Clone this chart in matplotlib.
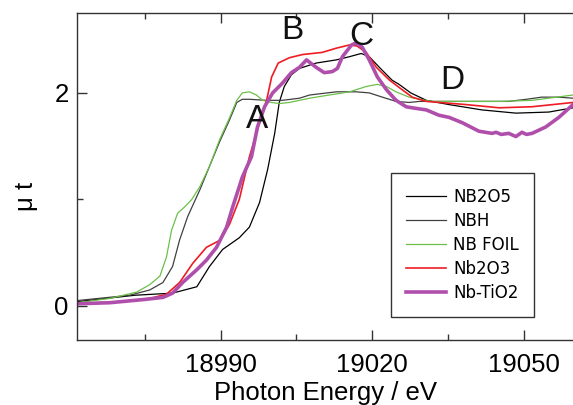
import numpy as np
import matplotlib
matplotlib.use("Agg")
import matplotlib.pyplot as plt

plt.rcParams["font.family"] = ["Liberation Sans", "DejaVu Sans"]

# NB FOIL (green)
foil_e = [18961.6, 18968.1, 18973.4, 18976.0, 18978.0, 18979.3, 18980.3, 18981.5, 18982.9,
          18984.3, 18985.9, 18987.8, 18989.8, 18991.8, 18993.2, 18994.3, 18995.7, 18997.1,
          18998.3, 19000.1, 19001.6, 19003.6, 19007.6, 19011.5, 19015.5, 19018.8, 19021.0,
          19022.8, 19024.7, 19027.3, 19029.3, 19031.8, 19038.6, 19045.1, 19051.6, 19059.7]
foil_mu = [0.03, 0.07, 0.13, 0.20, 0.28, 0.46, 0.71, 0.87, 0.93,
           1.00, 1.12, 1.31, 1.56, 1.77, 1.93, 2.00, 2.01, 1.98,
           1.93, 1.91, 1.90, 1.91, 1.95, 1.98, 2.01, 2.06, 2.08,
           2.06, 2.01, 1.96, 1.94, 1.92, 1.92, 1.92, 1.93, 1.98]

# NBH (dark, early edge)
nbh_e = [18961.6, 18972.0, 18976.0, 18978.6, 18980.5, 18981.9, 18983.5, 18985.9, 18987.8,
         18989.8, 18991.8, 18993.2, 18994.3, 18995.7, 18999.1, 19002.2, 19005.6, 19007.6,
         19012.9, 19016.8, 19019.4, 19022.0, 19024.7, 19027.3, 19029.3, 19038.6, 19047.0,
         19050.5, 19053.5, 19056.9, 19059.7]
nbh_mu = [0.05, 0.10, 0.15, 0.22, 0.37, 0.62, 0.84, 1.09, 1.31,
          1.54, 1.75, 1.91, 1.94, 1.94, 1.93, 1.93, 1.95, 1.98,
          2.01, 2.01, 2.00, 1.96, 1.92, 1.91, 1.92, 1.92, 1.92,
          1.94, 1.96, 1.96, 1.95]

# NB2O5 (black, late edge)
nb2o5_e = [18961.6, 18973.0, 18980.5, 18985.3, 18987.8, 18990.4, 18993.7, 18995.7, 18997.7,
           18999.3, 19000.7, 19001.6, 19002.6, 19004.0, 19005.6, 19008.9, 19012.9, 19015.5,
           19017.8, 19019.4, 19021.4, 19023.9, 19025.3, 19027.6, 19030.7, 19035.2, 19041.7,
           19048.4, 19054.9, 19059.7]
nb2o5_mu = [0.04, 0.10, 0.12, 0.18, 0.37, 0.53, 0.64, 0.74, 0.97,
            1.28, 1.62, 1.91, 2.06, 2.17, 2.23, 2.28, 2.31, 2.34,
            2.37, 2.34, 2.24, 2.12, 2.08, 2.00, 1.93, 1.89, 1.84,
            1.81, 1.82, 1.86]

# Nb2O3 (red)
nb2o3_e = [18961.6, 18970.0, 18976.0, 18979.3, 18981.9, 18984.5, 18987.2, 18990.0, 18991.8,
           18993.7, 18995.7, 18997.7, 18999.1, 19000.1, 19001.4, 19003.6, 19006.2, 19010.1,
           19012.9, 19015.5, 19017.0, 19018.8, 19020.8, 19023.4, 19025.9, 19027.9, 19030.7,
           19038.6, 19045.1, 19051.6, 19059.7]
nb2o3_mu = [0.02, 0.04, 0.07, 0.11, 0.22, 0.40, 0.55, 0.62, 0.77,
            1.00, 1.40, 1.72, 1.93, 2.15, 2.28, 2.33, 2.36, 2.38,
            2.42, 2.45, 2.44, 2.38, 2.24, 2.12, 2.03, 1.96, 1.92,
            1.89, 1.86, 1.87, 1.91]

# Nb-TiO2 (purple, thick)
tio2_e = [18961.6, 18968.1, 18974.8, 18978.6, 18980.5, 18982.5, 18985.3, 18987.2, 18989.2,
          18991.2, 18992.4, 18993.7, 18994.3, 18996.1, 18997.3, 18998.7, 19000.3, 19002.2,
          19004.0, 19005.6, 19007.0, 19008.9, 19010.5, 19012.1, 19013.1, 19014.1, 19015.9,
          19016.8, 19018.0, 19019.4, 19021.0, 19022.8, 19024.7, 19026.7, 19027.9, 19030.7,
          19033.2, 19035.2, 19037.8, 19041.1, 19043.7, 19044.5, 19045.5, 19047.0, 19048.4,
          19049.6, 19050.5, 19051.6, 19054.3, 19056.9, 19059.7]
tio2_mu = [0.02, 0.03, 0.06, 0.08, 0.12, 0.22, 0.34, 0.43, 0.55,
           0.74, 0.93, 1.12, 1.21, 1.40, 1.68, 1.87, 2.00, 2.09,
           2.19, 2.24, 2.31, 2.24, 2.19, 2.20, 2.23, 2.34, 2.45,
           2.47, 2.43, 2.31, 2.15, 2.03, 1.93, 1.87, 1.86, 1.84,
           1.79, 1.77, 1.72, 1.64, 1.62, 1.63, 1.61, 1.62, 1.59,
           1.63, 1.61, 1.62, 1.68, 1.77, 1.89]

peak_labels = ["A", "B", "C", "D"]
peak_e = [18997.3, 19004.2, 19017.8, 19035.8]
peak_mu = [1.75, 2.59, 2.53, 2.12]

fig = plt.figure(figsize=(5.73, 4.05), dpi=100)
ax = fig.add_axes([77 / 573, 1 - 340 / 405, 1 - 77 / 573, (340 - 13) / 405])

ax.plot(nb2o5_e, nb2o5_mu, color="black", lw=0.9, label="NB2O5")
ax.plot(nbh_e, nbh_mu, color="#404040", lw=0.9, label="NBH")
ax.plot(foil_e, foil_mu, color="#6cc04a", lw=0.9, label="NB FOIL")
ax.plot(nb2o3_e, nb2o3_mu, color="#ee1c24", lw=1.2, label="Nb2O3")
ax.plot(tio2_e, tio2_mu, color="#b04fab", lw=2.6, label="Nb-TiO2")

for lab, e, m in zip(peak_labels, peak_e, peak_mu):
    ax.text(e, m, lab, fontsize=24, ha="center", va="center", color="#111111")

ax.set_xlim(18961.6, 19059.7)
ax.set_ylim(-0.32, 2.75)
ax.set_xticks([18990, 19020, 19050])
ax.set_xticks([18975, 19005, 19035], minor=True)
ax.set_yticks([0, 2])
ax.set_yticks([1], minor=True)
ax.tick_params(which="both", direction="in", top=True, right=False,
               labelsize=18.5, width=1, color="#333333")
ax.tick_params(which="major", length=7)
ax.tick_params(which="minor", length=4)
ax.tick_params(axis="x", pad=9)
ax.tick_params(axis="y", pad=6)
ax.xaxis.set_major_formatter(plt.FormatStrFormatter("%d"))
for side in ("left", "bottom", "top"):
    ax.spines[side].set_color("#333333")
    ax.spines[side].set_linewidth(1)
ax.spines["right"].set_visible(False)

ax.set_xlabel("Photon Energy / eV", fontsize=18.5, labelpad=3)
ax.set_ylabel("μ t", fontsize=18.5)
ax.yaxis.set_label_coords(-0.079, 0.44)

leg = fig.legend(loc="upper left", bbox_to_anchor=(391 / 573, 1 - 173 / 405),
                 prop={"family": "DejaVu Sans", "size": 12}, frameon=True,
                 fancybox=False, borderaxespad=0, handlelength=2.4,
                 labelspacing=0.36, borderpad=0.9, handletextpad=0.42)
leg.get_frame().set_edgecolor("#333333")
leg.get_frame().set_linewidth(1)
leg.get_frame().set_alpha(1)

fig.savefig("out.png", dpi=100)
